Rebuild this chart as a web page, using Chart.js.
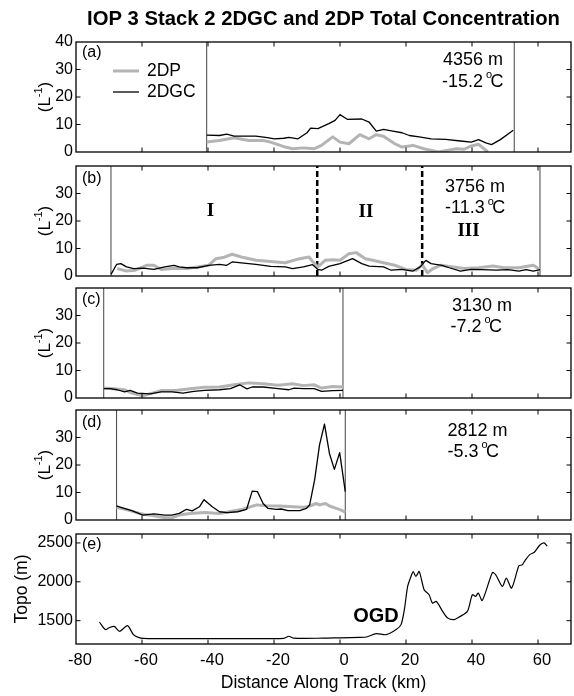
<!DOCTYPE html>
<html><head><meta charset="utf-8">
<script src="https://cdn.jsdelivr.net/npm/chart.js@4.4.1/dist/chart.umd.min.js"></script>
<style>
html,body{margin:0;padding:0;background:#fff;}
#wrap{position:relative;width:574px;height:696px;overflow:hidden;}
#wrap canvas{position:absolute;left:0;top:0;}
</style>
</head><body>
<div id="wrap">
<canvas id="ca" width="574" height="696"></canvas>
<canvas id="cb" width="574" height="696"></canvas>
<canvas id="cc" width="574" height="696"></canvas>
<canvas id="cd" width="574" height="696"></canvas>
<canvas id="ce" width="574" height="696"></canvas>
</div>
<script>
// ---------------- data ----------------
const xTicks = [-80,-60,-40,-20,0,20,40,60];
const yTicksConcTop = [0,10,20,30,40];
const yTicksConc = [0,10,20,30];
const yTicksTopo = [1500,2000,2500];

// (a) 4356 m
const aKm2DGC = [-40.4,-36.5,-34.3,-32.1,-25.5,-22,-19.9,-17,-15.5,-12.7,-10,-8.9,-6.7,-3.4,-1.5,0,2.2,6.6,8.8,11,13.2,16,18.8,21,24,27.6,32,36.5,39.8,42,44.2,45.9,48.6,52.5];
const aVal2DGC = [6.1,6,6.5,5.8,5.8,5.2,4.8,5,5.3,4.8,7,8.7,8.5,10.3,11.5,13.6,11.9,12,10.9,7.6,8.2,7.6,7,6,5.5,4.8,4.6,4,3.6,4.5,3.3,2.7,4.5,7.9];
const aKm2DP = [-40.4,-36.5,-32.1,-27.7,-23.3,-21,-16.6,-14.4,-11.1,-7.8,-5.6,-2.2,0,2.7,6,8.8,11,13.2,16.6,18.8,22.1,25.4,29.8,35.3,37.6,39.8,42,44.8];
const aVal2DP = [3.6,4.2,5.2,4.2,4.2,3.6,1.8,1.2,1.5,1.2,2.4,5.5,3.6,3,6.3,4.8,6.3,5.7,3,1.8,2.4,1.2,0,1.2,1,2.2,2.8,0];
const aLeg = [-40.4,52.8];

// (b) 3756 m
const bKm2DGC = [-69.4,-67.7,-66.4,-64.7,-62.5,-59.7,-56.4,-53.1,-50.3,-48.7,-46.5,-43.2,-39.8,-36.5,-34.3,-32.7,-29.9,-25.5,-21,-16.6,-14.4,-11.1,-8.3,-6.7,-5.6,-3.4,0,3.8,6.6,8.8,13.2,15.5,18.8,22.1,24.3,26,27.6,30.9,33.1,36.5,39.8,43.1,47.5,50.8,54.2,56.4,58.6,60.6];
const bVal2DGC = [0.6,4.2,4.5,3.3,2.7,2.9,2.4,3.3,3.9,3.3,3,3,3.9,4.2,3.9,5.1,4.8,4.2,3.5,3.3,2.7,3.3,4.1,2.4,2.1,3.5,4.5,6.3,4.5,3.6,3.3,2.1,2.4,1.8,3.3,5.7,4.5,3.9,3,1.8,2.4,2.3,2.1,2.3,1.8,2.3,1.8,2.3];
const bKm2DP = [-67.5,-64.7,-62,-58.6,-56.4,-54.2,-50.9,-46.5,-43.2,-39.8,-37.6,-35.4,-32.7,-29.9,-25.5,-21,-16.6,-12.2,-9.4,-8.3,-6.7,-4.5,-2.2,0,2.7,4.9,7.7,9.9,13.2,16.6,19.9,23.2,24.9,26.5,28.2,30.4,34.3,37.6,42,46.4,49.7,54.2,58.6,60.6];
const bVal2DP = [2.7,1.8,2.1,3.9,3.9,2.4,2.7,2.7,3.3,3.9,6.3,6.7,7.9,6.9,5.7,5.3,4.8,6.3,6.9,5.3,3.3,5.7,5.9,5.7,8.1,8.5,6.3,5.7,4.8,3.9,2.4,2.1,4.1,1.2,2.7,3.9,3.3,2.7,3,3.6,3,3,3.9,2.4];
const bLeg = [-69.4,60.6];
const bRegionBounds = [-6.9,24.9];

// (c) 3130 m
const cKm2DGC = [-71.6,-69.7,-67.5,-65.3,-63.6,-61.4,-57.5,-54.2,-50.9,-47.6,-44.3,-41,-36.5,-33.2,-30.4,-28.2,-26.6,-23.3,-18.8,-15.5,-13.9,-11.1,-7.8,-5.6,-2.2,0.9];
const cVal2DGC = [3.4,3.4,3,2.2,2.8,1.8,1.5,2.2,2.2,1.8,2.4,2.8,3,3.4,4.8,3.3,4,4,3.4,3,3.6,3.4,3.4,2.4,2.7,2.8];
const cKm2DP = [-71.6,-68.6,-65.3,-63.1,-59.7,-57.5,-54.2,-49.8,-45.4,-41,-36.5,-32.1,-27.7,-23.3,-18.8,-14.4,-11.1,-7.8,-5.6,-2.2,0.9];
const cVal2DP = [3.6,3.4,3,1.8,0.8,1.6,2.7,2.7,3.4,3.9,4,4.8,5.5,5.2,4.6,5.2,4.5,4.8,3.6,4.2,4];
const cLeg = [-71.6,0.9];

// (d) 2812 m
const dKm2DGC = [-67.7,-66.4,-63.1,-59.7,-56.4,-53.1,-50.9,-48.7,-46.5,-44.8,-42.6,-41.2,-38.7,-36.5,-34.3,-31,-28.3,-26.6,-25,-23.3,-21.8,-19.3,-17.8,-15.8,-12.2,-10.2,-9.2,-7.7,-6.2,-4.7,-3.2,-1.7,-0.1,1.6];
const dVal2DGC = [5.1,4.6,3.4,1.8,2.2,1.8,1.8,2.4,3.9,3.3,4.8,7.4,4.8,3,2.7,3,3.9,10.5,10.3,6,4.2,3.9,4,3.4,3.4,4.2,5.5,14.5,27.3,34.9,24.2,18.4,24.5,10.3];
const dKm2DP = [-67.7,-64.2,-60.8,-56.4,-53.1,-50.9,-48.7,-45.4,-41,-36.5,-32.4,-29.4,-25.3,-22.3,-18.3,-14.3,-11.2,-9.2,-7.2,-6.2,-4.4,-3.2,-1.1,0.4,1.6];
const dVal2DP = [4.6,3.6,2.4,1.5,0.8,0.8,1.8,2.4,2.7,2.4,3.3,3.9,5.5,5.2,5.1,4.8,4.6,5.1,6,5.5,6,5.1,4.2,3.6,2.8];
const dLeg = [-67.7,1.6];

// (e) topography
const eKm = [-72.9,-71.1,-70.1,-68.4,-66.8,-64.4,-62.6,-61.1,-59.6,-55,-45,-35,-25,-17,-15.5,-14,-5,0,6,8,11,14,17,18.5,19.5,20.5,21.5,22.2,23,24,25.5,27,28,29.2,31.1,32.6,34.6,36.1,38.6,40.1,41.1,41.9,43.1,46.2,47.2,49.2,50.4,52,54.2,55.2,56.2,57.5,58.9,60.5,61.8,62.8];
const eTopo = [1483,1385,1406,1427,1363,1436,1320,1286,1273,1270,1270,1270,1270,1272,1300,1275,1275,1280,1285,1290,1333,1320,1385,1449,1641,1940,2068,2132,2068,2132,1897,1833,1727,1747,1619,1534,1513,1547,1619,1833,1812,1855,1760,2119,2090,1940,2047,1919,2205,2218,2282,2350,2380,2470,2500,2460];

// ---------------- drawing ----------------
const H = 696;
const FONT = '"Liberation Sans", Arial, Helvetica, sans-serif';
const SERIF = '"Liberation Serif", "Times New Roman", serif';
const GRAY = '#b4b4b4';

const pts = (xs, ys) => xs.map((v, i) => ({x: v, y: ys[i]}));
const vline = (xv, y0, y1) => [{x: xv, y: y0}, {x: xv, y: y1}];

function txt(ctx, s, x, y, font, align) {
  ctx.font = font; ctx.textAlign = align || 'left'; ctx.textBaseline = 'middle';
  ctx.fillStyle = '#000'; ctx.fillText(s, x, y);
}
function temp(ctx, s, x, y) {
  const big = '18px ' + FONT;
  ctx.font = big; ctx.textAlign = 'left'; ctx.textBaseline = 'middle'; ctx.fillStyle = '#000';
  ctx.fillText(s, x, y);
  const w = ctx.measureText(s).width;
  ctx.font = '11px ' + FONT; ctx.fillText('o', x + w + 3, y - 7);
  ctx.font = big; ctx.fillText('C', x + w + 7.5, y);
}
function yLabelL(ctx, cx, cy) {
  ctx.save(); ctx.translate(cx, cy); ctx.rotate(-Math.PI / 2);
  const big = '17px ' + FONT, small = '11px ' + FONT;
  ctx.font = big; const w1 = ctx.measureText('(L').width, w3 = ctx.measureText(')').width;
  ctx.font = small; const w2 = ctx.measureText('-1').width;
  const x0 = -(w1 + w2 + w3) / 2;
  ctx.textBaseline = 'middle'; ctx.textAlign = 'left'; ctx.fillStyle = '#000';
  ctx.font = big; ctx.fillText('(L', x0, 0);
  ctx.font = small; ctx.fillText('-1', x0 + w1, -6);
  ctx.font = big; ctx.fillText(')', x0 + w1 + w2, 0);
  ctx.restore();
}
function yLabelText(ctx, s, cx, cy) {
  ctx.save(); ctx.translate(cx, cy); ctx.rotate(-Math.PI / 2);
  txt(ctx, s, 0, 0, '17.5px ' + FONT, 'center');
  ctx.restore();
}

function decor(p) {
  return {
    id: 'decor_' + p.id,
    afterDatasetsDraw(chart) {
      const ctx = chart.ctx, a = chart.chartArea, xs = chart.scales.x, ys = chart.scales.y;
      ctx.save();
      ctx.strokeStyle = '#000'; ctx.lineWidth = 1.3;
      ctx.strokeRect(a.left, a.top, a.right - a.left, a.bottom - a.top);
      const TL = 4.5;
      ctx.lineWidth = 1; ctx.beginPath();
      xTicks.forEach(v => {
        const px = xs.getPixelForValue(v);
        if (px > a.left + 1 && px < a.right - 1) {
          ctx.moveTo(px, a.bottom); ctx.lineTo(px, a.bottom - TL);
          ctx.moveTo(px, a.top); ctx.lineTo(px, a.top + TL);
        }
      });
      p.yTicks.forEach(v => {
        const py = ys.getPixelForValue(v);
        if (py > a.top + 1 && py < a.bottom - 1) {
          ctx.moveTo(a.left, py); ctx.lineTo(a.left + TL, py);
          ctx.moveTo(a.right, py); ctx.lineTo(a.right - TL, py);
        }
      });
      ctx.stroke();
      p.extra(ctx, chart, a);
      ctx.restore();
    }
  };
}

function concSets(k1, v1, k2, v2, leg) {
  return [
    {data: pts(k1, v1), borderColor: '#000', borderWidth: 1.3},
    {data: pts(k2, v2), borderColor: GRAY, borderWidth: 3},
    {data: vline(leg[0], 0, 40), borderColor: '#444', borderWidth: 1},
    {data: vline(leg[1], 0, 40), borderColor: '#444', borderWidth: 1}
  ];
}

function makeChart(p) {
  return new Chart(document.getElementById(p.id), {
    type: 'line',
    data: {datasets: p.datasets},
    options: {
      responsive: false, animation: false, devicePixelRatio: 1,
      layout: {padding: {left: 0, right: 3, top: p.top, bottom: p.showX ? 0 : H - p.bottom}},
      plugins: {legend: {display: false}, tooltip: {enabled: false}, title: {display: false}},
      elements: {point: {radius: 0}, line: {tension: 0, borderJoinStyle: 'round'}},
      scales: {
        x: {
          type: 'linear', min: -80, max: 70,
          grid: {display: false, drawTicks: false}, border: {display: false},
          afterBuildTicks: s => { s.ticks = xTicks.map(v => ({value: v})); },
          afterFit: s => { s.height = p.showX ? H - p.bottom : 0; },
          ticks: {display: !!p.showX, color: '#000', font: {family: FONT, size: 16.5}, padding: 7, labelOffset: 4, maxRotation: 0, autoSkip: false,
                  callback: v => String(v)},
          title: {display: !!p.showX, text: 'Distance Along Track (km)', color: '#000', font: {family: FONT, size: 17.5}, padding: {top: 0, bottom: 2}}
        },
        y: {
          type: 'linear', min: p.ymin, max: p.ymax,
          grid: {display: false, drawTicks: false}, border: {display: false},
          afterBuildTicks: s => { s.ticks = p.yTicks.map(v => ({value: v})); },
          afterFit: s => { s.width = 76; },
          ticks: {color: '#000', font: {family: FONT, size: 16}, padding: 3, callback: v => String(v)}
        }
      }
    },
    plugins: [decor(p)]
  });
}

// (a)
makeChart({
  id: 'ca', top: 42, bottom: 152, ymin: 0, ymax: 40, yTicks: yTicksConcTop,
  datasets: concSets(aKm2DGC, aVal2DGC, aKm2DP, aVal2DP, aLeg),
  extra(ctx, chart, a) {
    txt(ctx, 'IOP 3 Stack 2 2DGC and 2DP Total Concentration', (a.left + a.right) / 2, 19, 'bold 20.3px ' + FONT, 'center');
    txt(ctx, '(a)', 82, 53, '16px ' + FONT);
    ctx.lineCap = 'butt';
    ctx.strokeStyle = GRAY; ctx.lineWidth = 3; ctx.beginPath(); ctx.moveTo(113, 71); ctx.lineTo(139, 71); ctx.stroke();
    ctx.strokeStyle = '#000'; ctx.lineWidth = 1.3; ctx.beginPath(); ctx.moveTo(113, 92); ctx.lineTo(139, 92); ctx.stroke();
    txt(ctx, '2DP', 147, 71, '17.5px ' + FONT);
    txt(ctx, '2DGC', 147, 92, '17.5px ' + FONT);
    txt(ctx, '4356 m', 443, 60, '18px ' + FONT);
    temp(ctx, '-15.2', 442, 82);
    yLabelL(ctx, 45, (a.top + a.bottom) / 2);
  }
});

// (b)
const bSets = concSets(bKm2DGC, bVal2DGC, bKm2DP, bVal2DP, bLeg);
bRegionBounds.forEach(v => bSets.push({data: vline(v, 0, 40), borderColor: '#000', borderWidth: 2.5, borderDash: [6, 3]}));
makeChart({
  id: 'cb', top: 166, bottom: 276, ymin: 0, ymax: 40, yTicks: yTicksConc,
  datasets: bSets,
  extra(ctx, chart, a) {
    txt(ctx, '(b)', 82, 179, '16px ' + FONT);
    txt(ctx, 'I', 210.5, 211, 'bold 19px ' + SERIF, 'center');
    txt(ctx, 'II', 366, 212, 'bold 19px ' + SERIF, 'center');
    txt(ctx, 'III', 468.5, 231, 'bold 19px ' + SERIF, 'center');
    txt(ctx, '3756 m', 445, 187, '18px ' + FONT);
    temp(ctx, '-11.3', 445, 208.5);
    yLabelL(ctx, 45, (a.top + a.bottom) / 2);
  }
});

// (c)
makeChart({
  id: 'cc', top: 288, bottom: 398, ymin: 0, ymax: 40, yTicks: yTicksConc,
  datasets: concSets(cKm2DGC, cVal2DGC, cKm2DP, cVal2DP, cLeg),
  extra(ctx, chart, a) {
    txt(ctx, '(c)', 82, 300, '16px ' + FONT);
    txt(ctx, '3130 m', 452, 306, '18px ' + FONT);
    temp(ctx, '-7.2', 450.5, 327);
    yLabelL(ctx, 45, (a.top + a.bottom) / 2);
  }
});

// (d)
makeChart({
  id: 'cd', top: 410, bottom: 520, ymin: 0, ymax: 40, yTicks: yTicksConc,
  datasets: concSets(dKm2DGC, dVal2DGC, dKm2DP, dVal2DP, dLeg),
  extra(ctx, chart, a) {
    txt(ctx, '(d)', 82, 423, '16px ' + FONT);
    txt(ctx, '2812 m', 447.5, 431, '18px ' + FONT);
    temp(ctx, '-5.3', 447.5, 452);
    yLabelL(ctx, 45, (a.top + a.bottom) / 2);
  }
});

// (e)
makeChart({
  id: 'ce', top: 534, bottom: 644, ymin: 1200, ymax: 2615, yTicks: yTicksTopo, showX: true,
  datasets: [{data: pts(eKm, eTopo), borderColor: '#000', borderWidth: 1.2, tension: 0.25}],
  extra(ctx, chart, a) {
    txt(ctx, '(e)', 82, 545, '16px ' + FONT);
    txt(ctx, 'OGD', 376, 616, 'bold 20px ' + FONT, 'center');
    yLabelText(ctx, 'Topo (m)', 22, (a.top + a.bottom) / 2);
  }
});
</script>
</body></html>
